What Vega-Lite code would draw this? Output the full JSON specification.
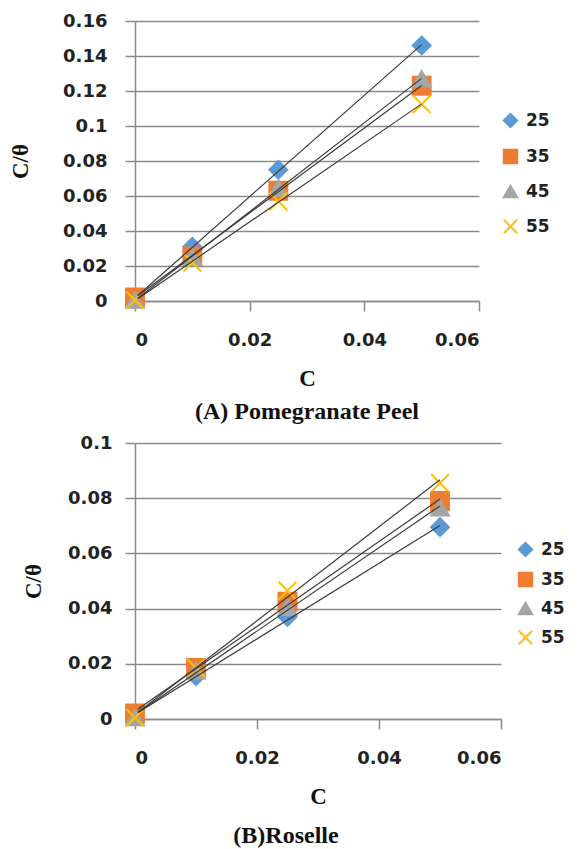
{
  "$schema": "https://vega.github.io/schema/vega-lite/v6.json",
  "background": "white",
  "padding": {"left": 9, "top": 12, "right": 5, "bottom": 5},
  "datasets": {
    "a": [
      {"c": 0, "ct": 0.001, "series": "25"},
      {"c": 0.01, "ct": 0.031, "series": "25"},
      {"c": 0.025, "ct": 0.075, "series": "25"},
      {"c": 0.05, "ct": 0.146, "series": "25"},
      {"c": 0, "ct": 0.002, "series": "35"},
      {"c": 0.01, "ct": 0.0255, "series": "35"},
      {"c": 0.025, "ct": 0.063, "series": "35"},
      {"c": 0.05, "ct": 0.123, "series": "35"},
      {"c": 0, "ct": 0.0005, "series": "45"},
      {"c": 0.01, "ct": 0.025, "series": "45"},
      {"c": 0.025, "ct": 0.0645, "series": "45"},
      {"c": 0.05, "ct": 0.127, "series": "45"},
      {"c": 0, "ct": 0.0005, "series": "55"},
      {"c": 0.01, "ct": 0.022, "series": "55"},
      {"c": 0.025, "ct": 0.057, "series": "55"},
      {"c": 0.05, "ct": 0.1125, "series": "55"}
    ],
    "b": [
      {"c": 0, "ct": 0.001, "series": "25"},
      {"c": 0.01, "ct": 0.0155, "series": "25"},
      {"c": 0.025, "ct": 0.037, "series": "25"},
      {"c": 0.05, "ct": 0.0695, "series": "25"},
      {"c": 0, "ct": 0.002, "series": "35"},
      {"c": 0.01, "ct": 0.0185, "series": "35"},
      {"c": 0.025, "ct": 0.0425, "series": "35"},
      {"c": 0.05, "ct": 0.079, "series": "35"},
      {"c": 0, "ct": 0.0005, "series": "45"},
      {"c": 0.01, "ct": 0.0175, "series": "45"},
      {"c": 0.025, "ct": 0.0405, "series": "45"},
      {"c": 0.05, "ct": 0.0765, "series": "45"},
      {"c": 0, "ct": 0.0005, "series": "55"},
      {"c": 0.01, "ct": 0.0185, "series": "55"},
      {"c": 0.025, "ct": 0.0465, "series": "55"},
      {"c": 0.05, "ct": 0.0855, "series": "55"}
    ]
  },
  "vconcat": [
    {
      "width": 344,
      "height": 280,
      "title": {"text": "(A) Pomegranate Peel", "orient": "bottom", "offset": 10},
      "data": {"name": "a"},
      "layer": [
        {
          "mark": {"type": "point", "filled": true, "size": 320, "strokeWidth": 2, "opacity": 1},
          "encoding": {
            "x": {"field": "c", "type": "quantitative", "scale": {"domain": [0, 0.06]}, "axis": {"values": [0, 0.02, 0.04, 0.06], "tickCount": 10, "format": "~g", "title": "C"}},
            "y": {"field": "ct", "type": "quantitative", "scale": {"domain": [0, 0.16]}, "axis": {"values": [0, 0.02, 0.04, 0.06, 0.08, 0.1, 0.12, 0.14, 0.16], "tickCount": 20, "format": "~g", "title": "C/θ", "titlePadding": 30, "labelPadding": 18}},
            "color": {"field": "series", "type": "nominal", "scale": {"domain": ["25", "35", "45", "55"], "range": ["#5B9BD5", "#ED7D31", "#A5A5A5", "#FFC000"]}, "legend": {"title": null, "orient": "none", "legendX": 367, "legendY": 91, "rowPadding": 13}},
            "stroke": {"field": "series", "type": "nominal", "scale": {"domain": ["25", "35", "45", "55"], "range": ["#5B9BD5", "#ED7D31", "#A5A5A5", "#FFC000"]}, "legend": {"title": null}},
            "shape": {"field": "series", "type": "nominal", "scale": {"domain": ["25", "35", "45", "55"], "range": ["diamond", "square", "triangle-up", "M-1,-1L1,1M1,-1L-1,1"]}, "legend": {"title": null}}
          }
        },
        {
          "transform": [{"regression": "ct", "on": "c", "groupby": ["series"], "extent": [0.0005, 0.05]}],
          "mark": {"type": "line", "color": "#3a3a3a", "strokeWidth": 1.2},
          "encoding": {
            "x": {"field": "c", "type": "quantitative"},
            "y": {"field": "ct", "type": "quantitative"},
            "detail": {"field": "series", "type": "nominal"}
          }
        }
      ]
    },
    {
      "width": 366,
      "height": 276,
      "title": {"text": "(B)Roselle", "orient": "bottom", "offset": 16, "dx": -32},
      "data": {"name": "b"},
      "layer": [
        {
          "mark": {"type": "point", "filled": true, "size": 320, "strokeWidth": 2, "opacity": 1},
          "encoding": {
            "x": {"field": "c", "type": "quantitative", "scale": {"domain": [0, 0.06]}, "axis": {"values": [0, 0.02, 0.04, 0.06], "tickCount": 10, "format": "~g", "title": "C"}},
            "y": {"field": "ct", "type": "quantitative", "scale": {"domain": [0, 0.1]}, "axis": {"values": [0, 0.02, 0.04, 0.06, 0.08, 0.1], "tickCount": 20, "format": "~g", "title": "C/θ", "titlePadding": 22, "labelPadding": 13}},
            "color": {"field": "series", "type": "nominal", "scale": {"domain": ["25", "35", "45", "55"], "range": ["#5B9BD5", "#ED7D31", "#A5A5A5", "#FFC000"]}, "legend": {"title": null, "orient": "none", "legendX": 382, "legendY": 98, "rowPadding": 7}},
            "stroke": {"field": "series", "type": "nominal", "scale": {"domain": ["25", "35", "45", "55"], "range": ["#5B9BD5", "#ED7D31", "#A5A5A5", "#FFC000"]}, "legend": {"title": null}},
            "shape": {"field": "series", "type": "nominal", "scale": {"domain": ["25", "35", "45", "55"], "range": ["diamond", "square", "triangle-up", "M-1,-1L1,1M1,-1L-1,1"]}, "legend": {"title": null}}
          }
        },
        {
          "transform": [{"regression": "ct", "on": "c", "groupby": ["series"], "extent": [0.0005, 0.05]}],
          "mark": {"type": "line", "color": "#3a3a3a", "strokeWidth": 1.2},
          "encoding": {
            "x": {"field": "c", "type": "quantitative"},
            "y": {"field": "ct", "type": "quantitative"},
            "detail": {"field": "series", "type": "nominal"}
          }
        }
      ]
    }
  ],
  "spacing": 10,
  "resolve": {
    "scale": {"color": "independent", "stroke": "independent", "shape": "independent"},
    "legend": {"color": "independent", "stroke": "independent", "shape": "independent"}
  },
  "config": {
    "view": {"stroke": null},
    "axis": {
      "labelFont": "DejaVu Sans",
      "labelFontWeight": "bold",
      "labelFontSize": 18,
      "labelColor": "#222222",
      "titleFont": "Liberation Serif",
      "titleFontSize": 23,
      "titleFontWeight": "bold",
      "titleColor": "#111111",
      "gridColor": "#8a8a8a",
      "gridWidth": 1.5,
      "domainColor": "#8a8a8a",
      "domainWidth": 1.5,
      "tickColor": "#8a8a8a",
      "tickWidth": 1.5,
      "tickSize": 10
    },
    "axisX": {"grid": false, "labelPadding": 20, "titlePadding": 18},
    "legend": {
      "labelFont": "DejaVu Sans",
      "labelFontWeight": "bold",
      "labelFontSize": 17,
      "labelColor": "#222222",
      "symbolSize": 180,
      "symbolStrokeWidth": 2,
      "labelOffset": 7
    },
    "title": {"font": "Liberation Serif", "fontSize": 24, "fontWeight": "bold", "color": "#111111"}
  }
}
